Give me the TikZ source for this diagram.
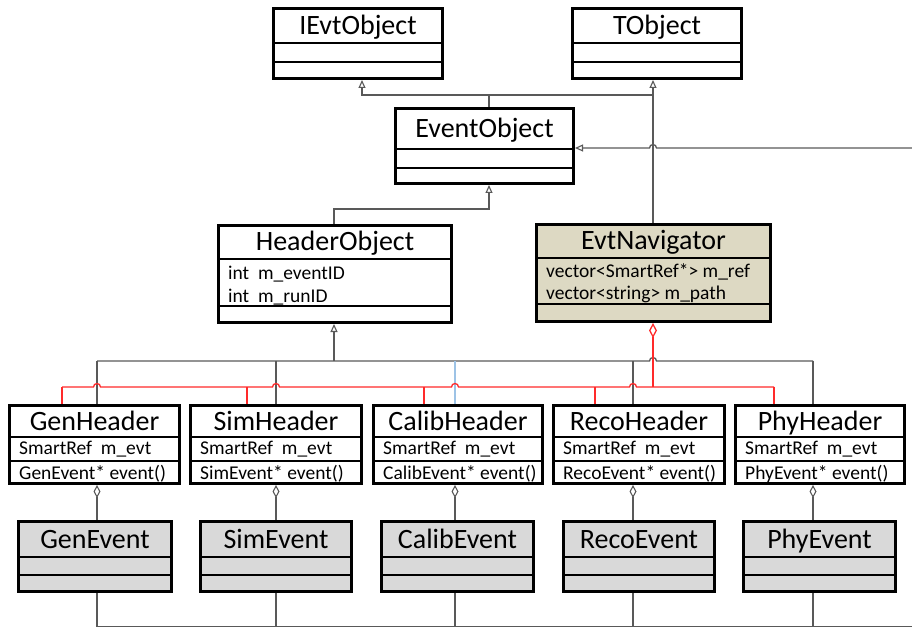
\documentclass[tikz,border=0pt]{standalone}
\usepackage{fontspec}
\setmainfont{Carlito}
\usetikzlibrary{arrows.meta,calc}
\definecolor{navfill}{HTML}{DDD9C3}
\definecolor{evfill}{HTML}{D9D9D9}
\definecolor{conngray}{HTML}{595959}
\definecolor{connred}{HTML}{FF2A2A}
\definecolor{connblue}{HTML}{9DC3E6}
\tikzset{
  umlbox/.style={draw=black, line width=2.6pt, inner sep=0pt, outer sep=1.3pt, anchor=north west, fill=white},
  sep/.style={draw=black, line width=2.2pt},
  ttl/.style={font=\fontsize{28}{30}\selectfont, inner sep=0pt, anchor=base},
  attr/.style={font=\fontsize{19.5}{21}\selectfont, inner sep=0pt, anchor=base west},
  conn/.style={draw=conngray, line width=1.3pt},
  redc/.style={draw=connred, line width=1.3pt},
  bluec/.style={draw=connblue, line width=1.6pt},
  inh/.tip={Triangle[open, length=8pt, width=7pt, line width=1.1pt]},
  agg/.tip={Diamond[open, length=13pt, width=7pt, line width=1.1pt]},
  ragg/.tip={Diamond[open, length=15pt, width=8pt, line width=1.3pt]},
}
% name, x1, y1, w, h, d1, d2, style, title
\newcommand{\umlclassbox}[9]{%
  \node[umlbox,#8,minimum width={(#4-2.6)*1pt},minimum height={(#5-2.6)*1pt}] (#1) at (#2,#3) {};
  \draw[sep] ([yshift={-#6pt}]#1.north west) -- ([yshift={-#6pt}]#1.north east);
  \draw[sep] ([yshift={-#7pt}]#1.north west) -- ([yshift={-#7pt}]#1.north east);
  \node[ttl] (#1-t) at ([yshift={-(#6/2+9.5)*1pt}]#1.north) {#9};
}
\begin{document}
\begin{tikzpicture}[x=1pt,y=-1pt]
\useasboundingbox (0,0) rectangle (912,628);

% ---------- classes ----------
\umlclassbox{ievt}{272}{7}{172}{73}{36}{55}{}{IEvtObject}
\umlclassbox{tobj}{571}{7}{172}{73}{36}{55}{}{TObject}
\umlclassbox{eo}{394}{107}{181}{78}{42}{61}{}{EventObject}
\umlclassbox{ho}{217}{224}{236}{100}{35}{82}{}{HeaderObject}
\umlclassbox{nav}{535}{223}{237}{100}{35}{81}{fill=navfill}{EvtNavigator}

\umlclassbox{gh}{8}{404}{173}{81}{33}{57}{}{GenHeader}
\umlclassbox{sh}{189}{404}{174}{81}{33}{57}{}{SimHeader}
\umlclassbox{ch}{372}{404}{172}{81}{33}{57}{}{CalibHeader}
\umlclassbox{rh}{552}{404}{174}{81}{33}{57}{}{RecoHeader}
\umlclassbox{ph}{734}{404}{172}{81}{33}{57}{}{PhyHeader}

\umlclassbox{ge}{17}{520}{156}{73}{37}{55}{fill=evfill}{GenEvent}
\umlclassbox{se}{199}{520}{154}{73}{37}{55}{fill=evfill}{SimEvent}
\umlclassbox{ce}{380}{520}{155}{73}{37}{55}{fill=evfill}{CalibEvent}
\umlclassbox{re}{562}{520}{154}{73}{37}{55}{fill=evfill}{RecoEvent}
\umlclassbox{pe}{742}{520}{155}{73}{37}{55}{fill=evfill}{PhyEvent}

% ---------- attributes / operations ----------
\node[attr] (ho-a1) at ([xshift=11pt,yshift=-55pt]ho.north west) {int\ \ m\_eventID};
\node[attr] (ho-a2) at ([xshift=11pt,yshift=-78pt]ho.north west) {int\ \ m\_runID};
\node[attr] (nav-a1) at ([xshift=11pt,yshift=-54pt]nav.north west) {vector<SmartRef*> m\_ref};
\node[attr] (nav-a2) at ([xshift=11pt,yshift=-76pt]nav.north west) {vector<string> m\_path};

\foreach \n/\ev in {gh/GenEvent,sh/SimEvent,ch/CalibEvent,rh/RecoEvent,ph/PhyEvent}{
  \node[attr] (\n-a) at ([xshift=11pt,yshift=-50pt]\n.north west) {SmartRef\ \ m\_evt};
  \node[attr] (\n-o) at ([xshift=11pt,yshift=-75pt]\n.north west) {\ev* event()};
}

% ---------- helper coordinates ----------
\coordinate (xI) at (362,0);
\coordinate (xT) at (653,0);
\coordinate (xE) at (489,0);
\coordinate (xH) at (334,0);
\coordinate (k1) at (97,0);
\coordinate (k2) at (276,0);
\coordinate (k3) at (455,0);
\coordinate (k4) at (633,0);
\coordinate (k5) at (813,0);
\coordinate (q1) at (62,0);
\coordinate (q2) at (247,0);
\coordinate (q3) at (424,0);
\coordinate (q4) at (595,0);
\coordinate (q5) at (774,0);
\coordinate (tb) at (0,95);
\coordinate (hb) at (0,209);
\coordinate (bb) at (0,361);
\coordinate (rb) at (0,387);
\coordinate (bot) at (0,626.5);
\coordinate (botR) at (912,626.5);
\coordinate (eb) at (912,148);
\coordinate (jE) at (653,148);
\coordinate (jB) at (xT |- bb);
\coordinate (jr1) at (k1 |- rb);
\coordinate (jr2) at (k2 |- rb);
\coordinate (jr3) at (k3 |- rb);
\coordinate (jr4) at (k4 |- rb);

% ---------- top generalisations ----------
\draw[conn] (eo.north -| xE) -- (xE |- tb);
\draw[conn,-{inh}] (xE |- tb) -| (ievt.south -| xI);
\draw[conn,-{inh}] (xE |- tb) -| (tobj.south -| xT);
\draw[conn] (nav.north -| xT) -- (xT |- tb);
\draw[conn,-{inh}] (eb) -- ([xshift=3.5pt]jE) arc[start angle=0,end angle=180,radius=3.5pt] -- (eo.east |- eb);
\draw[conn,-{inh}] (ho.north -| xH) -- (xH |- hb) -| (eo.south -| xE);

% ---------- header generalisation bus ----------
\draw[conn,-{inh}] (xH |- bb) -- (ho.south -| xH);
\draw[conn] (k1 |- bb) -- ([xshift=-3.5pt]jB) arc[start angle=180,end angle=0,radius=3.5pt] -- (k5 |- bb);
\draw[conn] (k1 |- bb) -- (gh.north -| k1);
\draw[conn] (k2 |- bb) -- (sh.north -| k2);
\draw[bluec] (k3 |- bb) -- (ch.north -| k3);
\draw[conn] (k4 |- bb) -- (rh.north -| k4);
\draw[conn] (k5 |- bb) -- (ph.north -| k5);

% ---------- navigator aggregation (red) ----------
\draw[redc,{ragg}-] (nav.south -| xT) -- (xT |- rb);
\draw[redc] (q1 |- rb)
  -- ([xshift=-3.5pt]jr1) arc[start angle=180,end angle=0,radius=3.5pt]
  -- ([xshift=-3.5pt]jr2) arc[start angle=180,end angle=0,radius=3.5pt]
  -- ([xshift=-3.5pt]jr3) arc[start angle=180,end angle=0,radius=3.5pt]
  -- ([xshift=-3.5pt]jr4) arc[start angle=180,end angle=0,radius=3.5pt]
  -- (q5 |- rb);
\draw[redc] (q1 |- rb) -- (gh.north -| q1);
\draw[redc] (q2 |- rb) -- (sh.north -| q2);
\draw[redc] (q3 |- rb) -- (ch.north -| q3);
\draw[redc] (q4 |- rb) -- (rh.north -| q4);
\draw[redc] (q5 |- rb) -- (ph.north -| q5);

% ---------- header -> event aggregations ----------
\draw[conn,{agg}-] (gh.south -| k1) -- (ge.north -| k1);
\draw[conn,{agg}-] (sh.south -| k2) -- (se.north -| k2);
\draw[conn,{agg}-] (ch.south -| k3) -- (ce.north -| k3);
\draw[conn,{agg}-] (rh.south -| k4) -- (re.north -| k4);
\draw[conn,{agg}-] (ph.south -| k5) -- (pe.north -| k5);

% ---------- bottom bus ----------
\draw[conn] (ge.south -| k1) -- (k1 |- bot);
\draw[conn] (se.south -| k2) -- (k2 |- bot);
\draw[conn] (ce.south -| k3) -- (k3 |- bot);
\draw[conn] (re.south -| k4) -- (k4 |- bot);
\draw[conn] (pe.south -| k5) -- (k5 |- bot);
\draw[conn] (k1 |- bot) -- (botR);
\end{tikzpicture}
\end{document}
